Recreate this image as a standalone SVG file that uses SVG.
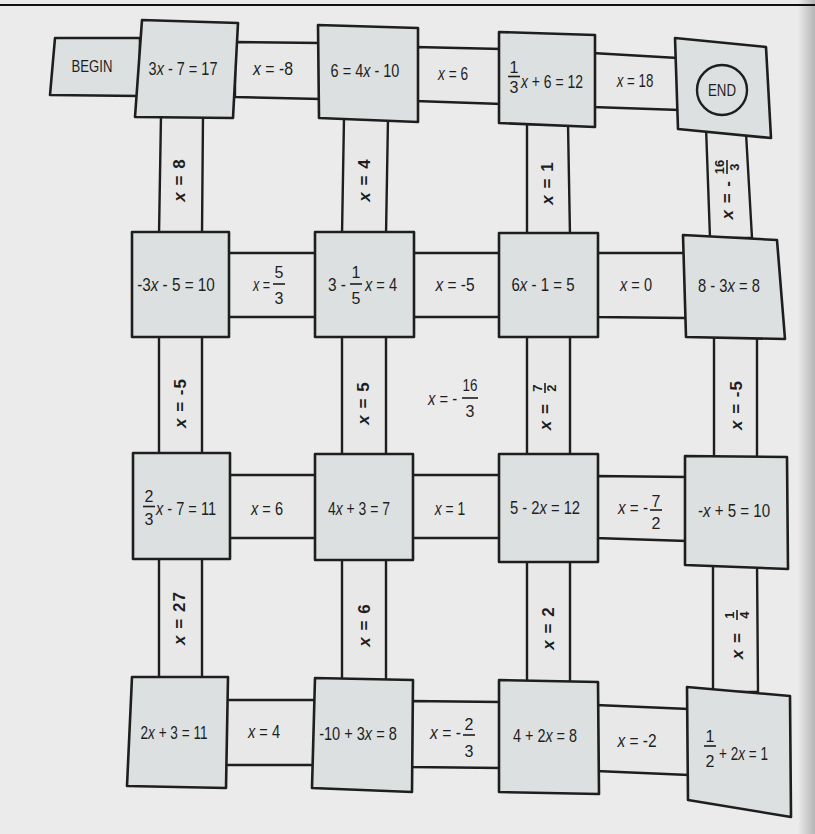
<svg xmlns="http://www.w3.org/2000/svg" width="815" height="834" viewBox="0 0 815 834">
<defs>
<linearGradient id="shade" x1="0" y1="0" x2="1" y2="0">
<stop offset="0" stop-color="#ebebeb"/>
<stop offset="1" stop-color="#b5b5b5"/>
</linearGradient>
<style>
.node{fill:#dde0e0;stroke:#1e1e1e;stroke-width:2.6;stroke-linejoin:round}
.link{fill:#e8e8e8;stroke:#1e1e1e;stroke-width:2.4;stroke-linejoin:round}
text{font-family:"Liberation Sans","Arial",sans-serif;font-size:18px;fill:#1e1e1e}
.c{text-anchor:middle}
.e{text-anchor:end}
.i{font-style:italic}
.f{font-size:16px}
.v{font-weight:bold;font-size:17px;letter-spacing:1px}
.vf{font-weight:bold;font-size:13px}
.fb{stroke:#1e1e1e;stroke-width:1.6}
.lbl{font-size:16px}
</style>
</defs>
<rect x="0" y="0" width="815" height="834" fill="#ebebeb"/>
<rect x="798" y="0" width="17" height="834" fill="url(#shade)"/>
<line x1="0" y1="5" x2="815" y2="5" stroke="#111" stroke-width="2"/>

<g id="connectors">
<polygon class="link" points="235,42 321,43 321,99 235,97"/>
<polygon class="link" points="415,47 502,49 502,104 415,101"/>
<polygon class="link" points="592,53 678,58 680,110 592,107"/>
<polygon class="link" points="226,253 318,253 318,317 226,317"/>
<polygon class="link" points="411,253 501,253 501,317 411,317"/>
<polygon class="link" points="595,253 686,253 686,318 595,317"/>
<polygon class="link" points="227,475 318,475 318,538 227,538"/>
<polygon class="link" points="410,475 501,475 501,538 410,538"/>
<polygon class="link" points="595,476 687,477 687,541 595,538"/>
<polygon class="link" points="225,700 315,700 315,765 225,765"/>
<polygon class="link" points="410,701 501,702 501,768 410,767"/>
<polygon class="link" points="596,705 689,709 689,775 596,771"/>
<polygon class="link" points="161,115 203,115 202,235 159,235"/>
<polygon class="link" points="159,334 202,334 202,456 159,456"/>
<polygon class="link" points="159,556 202,556 202,680 159,680"/>
<polygon class="link" points="344,118 388,118 386,235 342,235"/>
<polygon class="link" points="342,334 386,334 386,457 342,457"/>
<polygon class="link" points="342,557 386,557 386,681 342,681"/>
<polygon class="link" points="527,124 568,124 570,236 527,236"/>
<polygon class="link" points="527,334 570,334 570,457 527,457"/>
<polygon class="link" points="527,559 570,559 570,683 527,683"/>
<polygon class="link" points="706,127 746,133 752,238 710,238"/>
<polygon class="link" points="714,336 757,336 757,459 714,459"/>
<polygon class="link" points="713,562 757,562 758,692 713,692"/>

<text class="c" transform="translate(273,75) scale(0.88,1)"><tspan class="i">x</tspan> = -8</text>
<text class="c" transform="translate(453,80) scale(0.76,1)"><tspan class="i">x</tspan> = 6</text>
<text class="c" transform="translate(635,87) scale(0.74,1)"><tspan class="i">x</tspan> = 18</text>

<g id="lbl-x53">
<text transform="translate(253,291) scale(0.7,1)"><tspan class="i">x</tspan> =</text>
<text class="c f" x="279" y="278">5</text>
<line class="fb" x1="273" y1="284" x2="285" y2="284"/>
<text class="c f" x="279" y="304">3</text>
</g>
<text class="c" transform="translate(455,291) scale(0.86,1)"><tspan class="i">x</tspan> = -5</text>
<text class="c" transform="translate(636,291) scale(0.81,1)"><tspan class="i">x</tspan> = 0</text>

<text class="c" transform="translate(267,515) scale(0.81,1)"><tspan class="i">x</tspan> = 6</text>
<text class="c" transform="translate(450,515) scale(0.77,1)"><tspan class="i">x</tspan> = 1</text>
<g id="lbl-x72">
<text transform="translate(618,514) scale(0.845,1)"><tspan class="i">x</tspan> = -</text>
<text class="c f" x="656" y="507">7</text>
<line class="fb" x1="650" y1="510" x2="662" y2="510"/>
<text class="c f" x="656" y="529">2</text>
</g>

<text class="c" transform="translate(264,738) scale(0.81,1)"><tspan class="i">x</tspan> = 4</text>
<g id="lbl-x23">
<text transform="translate(430,739) scale(0.87,1)"><tspan class="i">x</tspan> = -</text>
<text class="c f" x="469" y="730">2</text>
<line class="fb" x1="463" y1="735" x2="475" y2="735"/>
<text class="c f" x="469" y="757">3</text>
</g>
<text class="c" transform="translate(637,747) scale(0.86,1)"><tspan class="i">x</tspan> = -2</text>

<g transform="translate(179,180) rotate(-90)"><text class="v c" y="6"><tspan class="i">x</tspan> = 8</text></g>
<g transform="translate(364,180) rotate(-90)"><text class="v c" y="6"><tspan class="i">x</tspan> = 4</text></g>
<g transform="translate(547,183) rotate(-90)"><text class="v c" y="6"><tspan class="i">x</tspan> = 1</text></g>
<g transform="translate(727,192) rotate(-90)">
<text class="v e" x="12" y="6"><tspan class="i">x</tspan> = -</text>
<text class="vf c" x="25" y="-3">16</text>
<line class="fb" x1="18" y1="0" x2="32" y2="0"/>
<text class="vf c" x="25" y="12">3</text>
</g>

<g transform="translate(180,403) rotate(-90)"><text class="v c" y="6"><tspan class="i">x</tspan> = -5</text></g>
<g transform="translate(363,403) rotate(-90)"><text class="v c" y="6"><tspan class="i">x</tspan> = 5</text></g>
<g transform="translate(545,403) rotate(-90)">
<text class="v e" x="0" y="6"><tspan class="i">x</tspan> =</text>
<text class="vf c" x="15" y="-3">7</text>
<line class="fb" x1="10" y1="0" x2="20" y2="0"/>
<text class="vf c" x="15" y="11">2</text>
</g>
<g transform="translate(736,405) rotate(-90)"><text class="v c" y="6"><tspan class="i">x</tspan> = -5</text></g>

<g transform="translate(179,618) rotate(-90)"><text class="v c" y="6"><tspan class="i">x</tspan> = 27</text></g>
<g transform="translate(364,625) rotate(-90)"><text class="v c" y="6"><tspan class="i">x</tspan> = 6</text></g>
<g transform="translate(548,628) rotate(-90)"><text class="v c" y="6"><tspan class="i">x</tspan> = 2</text></g>
<g transform="translate(737,632) rotate(-90)">
<text class="v e" x="0" y="6"><tspan class="i">x</tspan> =</text>
<text class="vf c" x="17" y="-3">1</text>
<line class="fb" x1="12" y1="0" x2="22" y2="0"/>
<text class="vf c" x="17" y="12">4</text>
</g>
</g>

<g id="free-label">
<text transform="translate(428,405) scale(0.82,1)"><tspan class="i">x</tspan> = -</text>
<text class="c f" transform="translate(470,391) scale(0.84,1)">16</text>
<line class="fb" x1="462" y1="398" x2="478" y2="398"/>
<text class="c f" x="470" y="417">3</text>
</g>

<g id="begin">
<polygon class="node" points="55,38 140,38 140,96 50,95"/>
<text class="c lbl" transform="translate(92,72) scale(0.82,1)">BEGIN</text>
</g>
<g id="n-3x-7">
<polygon class="node" points="142,20 238,23 233,118 135,117"/>
<text class="c" transform="translate(183,75) scale(0.806,1)">3<tspan class="i">x</tspan> - 7 = 17</text>
</g>
<g id="n-6-4x">
<polygon class="node" points="318,25 418,28 418,122 319,118"/>
<text class="c" transform="translate(365,77) scale(0.806,1)">6 = 4<tspan class="i">x</tspan> - 10</text>
</g>
<g id="n-third">
<polygon class="node" points="499,32 595,35 595,127 499,123"/>
<text class="c f" x="514" y="73">1</text>
<line class="fb" x1="508" y1="76.5" x2="520" y2="76.5"/>
<text class="c f" x="514" y="93">3</text>
<text transform="translate(521,88) scale(0.775,1)"><tspan class="i">x</tspan> + 6 = 12</text>
</g>
<g id="end">
<polygon class="node" points="675,38 766,47 771,138 678,129"/>
<circle cx="722" cy="90" r="25" fill="none" stroke="#1e1e1e" stroke-width="2.4"/>
<text class="c lbl" transform="translate(722,96) scale(0.83,1)">END</text>
</g>

<g id="n-m3x">
<polygon class="node" points="132,232 229,232 229,337 132,337"/>
<text class="c" transform="translate(176,291) scale(0.85,1)">-3<tspan class="i">x</tspan> - 5 = 10</text>
</g>
<g id="n-3-fifth">
<polygon class="node" points="315,232 414,232 414,337 315,337"/>
<text transform="translate(328,291) scale(0.857,1)">3 -</text>
<text class="c f" x="356" y="278">1</text>
<line class="fb" x1="350" y1="284" x2="362" y2="284"/>
<text class="c f" x="356" y="304">5</text>
<text transform="translate(365,291) scale(0.81,1)"><tspan class="i">x</tspan> = 4</text>
</g>
<g id="n-6x">
<polygon class="node" points="499,233 598,233 598,337 499,337"/>
<text class="c" transform="translate(543,291) scale(0.834,1)">6<tspan class="i">x</tspan> - 1 = 5</text>
</g>
<g id="n-8-3x">
<polygon class="node" points="683,235 777,240 785,339 686,337"/>
<text class="c" transform="translate(729,292) scale(0.82,1)">8 - 3<tspan class="i">x</tspan> = 8</text>
</g>

<g id="n-twothirds">
<polygon class="node" points="133,453 230,453 230,559 133,559"/>
<text class="c f" x="149" y="502">2</text>
<line class="fb" x1="143" y1="506.5" x2="155" y2="506.5"/>
<text class="c f" x="149" y="525">3</text>
<text transform="translate(156,515) scale(0.81,1)"><tspan class="i">x</tspan> - 7 = 11</text>
</g>
<g id="n-4x">
<polygon class="node" points="315,454 413,454 413,560 315,560"/>
<text class="c" transform="translate(359,515) scale(0.775,1)">4<tspan class="i">x</tspan> + 3 = 7</text>
</g>
<g id="n-5-2x">
<polygon class="node" points="499,454 598,454 598,562 499,562"/>
<text class="c" transform="translate(545,514) scale(0.82,1)">5 - 2<tspan class="i">x</tspan> = 12</text>
</g>
<g id="n-mx">
<polygon class="node" points="685,456 787,457 788,569 685,565"/>
<text class="c" transform="translate(734,517) scale(0.84,1)">-<tspan class="i">x</tspan> + 5 = 10</text>
</g>

<g id="n-2x">
<polygon class="node" points="132,677 228,677 226,788 127,786"/>
<text class="c" transform="translate(174,739) scale(0.755,1)">2<tspan class="i">x</tspan> + 3 = 11</text>
</g>
<g id="n-m10">
<polygon class="node" points="315,678 413,680 412,792 312,788"/>
<text class="c" transform="translate(358,740) scale(0.81,1)">-10 + 3<tspan class="i">x</tspan> = 8</text>
</g>
<g id="n-4-2x">
<polygon class="node" points="499,680 598,682 599,794 499,792"/>
<text class="c" transform="translate(545,742) scale(0.8,1)">4 + 2<tspan class="i">x</tspan> = 8</text>
</g>
<g id="n-half">
<polygon class="node" points="687,687 790,696 791,817 688,800"/>
<text class="c f" x="710" y="742">1</text>
<line class="fb" x1="704" y1="746" x2="716" y2="746"/>
<text class="c f" x="710" y="767">2</text>
<text transform="translate(719,760) scale(0.754,1)">+ 2<tspan class="i">x</tspan> = 1</text>
</g>
</svg>
